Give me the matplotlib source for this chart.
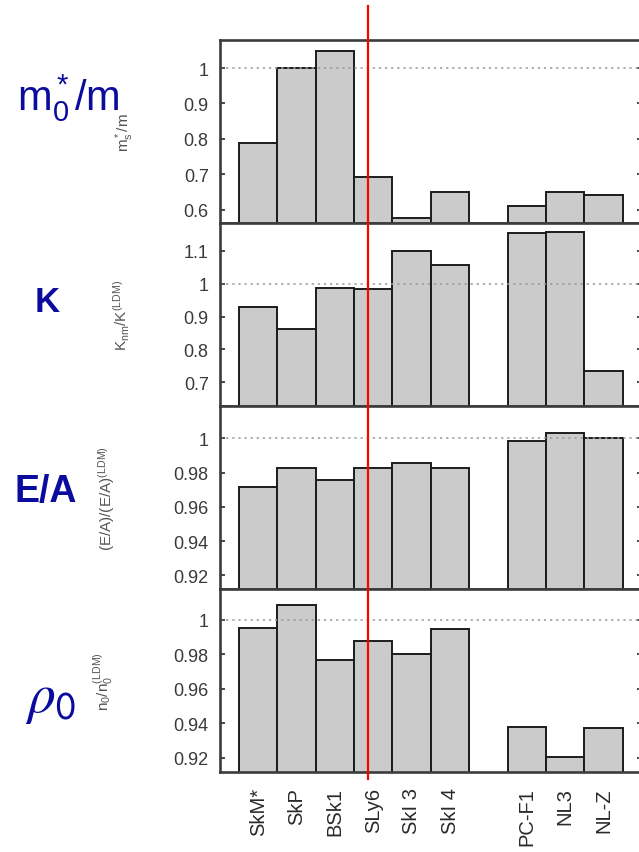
import matplotlib
matplotlib.use('Agg')
import matplotlib.pyplot as plt
import matplotlib.transforms as mtransforms
from matplotlib.lines import Line2D
from matplotlib.ticker import FuncFormatter

plt.rcParams['font.family'] = ['Liberation Sans', 'DejaVu Sans']
plt.rcParams['mathtext.fontset'] = 'custom'
plt.rcParams['mathtext.rm'] = 'Liberation Sans'
plt.rcParams['mathtext.it'] = 'Liberation Sans:italic'

# interactions, Skyrme group then relativistic group (gap between)
forces = ['SkM*', 'SkP', 'BSk1', 'SLy6', 'SkI 3', 'SkI 4', 'PC-F1', 'NL3', 'NL-Z']
xpos = [0, 1, 2, 3, 4, 5, 7, 8, 9]

# ratios to the liquid-drop values
mass_ratio = [0.789, 1.000, 1.047, 0.692, 0.578, 0.650, 0.612, 0.650, 0.641]
k_ratio = [0.928, 0.863, 0.988, 0.985, 1.100, 1.058, 1.154, 1.158, 0.736]
ea_ratio = [0.9718, 0.983, 0.976, 0.983, 0.9857, 0.983, 0.9988, 1.003, 1.000]
rho_ratio = [0.9956, 1.0086, 0.9767, 0.9876, 0.980, 0.9947, 0.9378, 0.9204, 0.9374]

ylabels = [r'$\mathregular{m_s^*/m}$',
           r'$\mathregular{K_{nm}/K^{(LDM)}}$',
           r'$\mathregular{(E/A)/(E/A)^{(LDM)}}$',
           r'$\mathregular{n_0/n_0^{(LDM)}}$']
ylims = [(0.563, 1.079), (0.628, 1.185), (0.912, 1.019), (0.9117, 1.018)]
yticks = [[0.6, 0.7, 0.8, 0.9, 1.0],
          [0.7, 0.8, 0.9, 1.0, 1.1],
          [0.92, 0.94, 0.96, 0.98, 1.0],
          [0.92, 0.94, 0.96, 0.98, 1.0]]
label_x = [-0.198, -0.208, -0.243, -0.248]

# quantity names drawn at the far left
quantities = [r'm$_0^*$/m', 'K', 'E/A', r'$\rho_{\mathsf{0}}$']

cut_x = 2.85  # marker line position in bar units

W, H = 639, 853
fig = plt.figure(figsize=(W / 100, H / 100), dpi=100)
fig.patch.set_facecolor('white')

edges = [41, 224, 407, 590, 773]
left_px, right_px = 219.8, 641.9
series = [mass_ratio, k_ratio, ea_ratio, rho_ratio]

axes = []
for i, vals in enumerate(series):
    top, bot = edges[i], edges[i + 1]
    ax = fig.add_axes([left_px / W, 1 - bot / H,
                       (right_px - left_px) / W, (bot - top) / H])
    ax.bar(xpos, vals, width=1.0, bottom=0, color='#cbcbcb',
           edgecolor='#1c1c1c', linewidth=1.4, zorder=2)
    ax.axhline(1.0, color='#9a9a9a', linestyle=(0, (1.5, 2.5)),
               linewidth=1.1, zorder=3)
    ax.set_xlim(-1, 10)
    ax.set_ylim(*ylims[i])
    ax.set_yticks(yticks[i])
    ax.yaxis.set_major_formatter(FuncFormatter(lambda v, p: '%g' % round(v, 3)))
    ax.tick_params(axis='y', direction='in', right=True, length=3.5,
                   width=1.3, labelsize=13, colors='#3a3a3a', pad=8)
    for sp in ax.spines.values():
        sp.set_linewidth(1.9)
        sp.set_color('#3c3c3c')
        sp.set_zorder(4)
    ax.set_xticks(xpos)
    if i < 3:
        ax.tick_params(axis='x', length=0, labelbottom=False)
    else:
        ax.set_xticklabels(forces, rotation=90, fontsize=14.5, color='#2a2a2a')
        ax.tick_params(axis='x', length=0, pad=11)
    ax.set_ylabel(ylabels[i], fontsize=11, color='#555555')
    ax.yaxis.set_label_coords(label_x[i], 0.5)
    axes.append(ax)

blue = '#0b0b9e'
fig.text(68 / W, 1 - 98 / H, quantities[0], fontsize=30, color=blue,
         ha='center', va='center')
fig.text(47 / W, 1 - 303 / H, quantities[1], fontsize=25, color=blue,
         fontweight='bold', ha='center', va='center')
fig.text(46 / W, 1 - 492 / H, quantities[2], fontsize=27, color=blue,
         fontweight='bold', ha='center', va='center')
fig.text(50 / W, 1 - 700 / H, quantities[3], fontsize=40, color=blue,
         ha='center', va='center', math_fontfamily='stix')

# vertical marker through all panels
trans = mtransforms.blended_transform_factory(axes[0].transData, fig.transFigure)
fig.add_artist(Line2D([cut_x, cut_x], [1 - 7 / H, 1 - 780 / H],
                      transform=trans, color='#ff0000', linewidth=1.6, zorder=10))

fig.savefig('out.png', dpi=100, facecolor='white')
